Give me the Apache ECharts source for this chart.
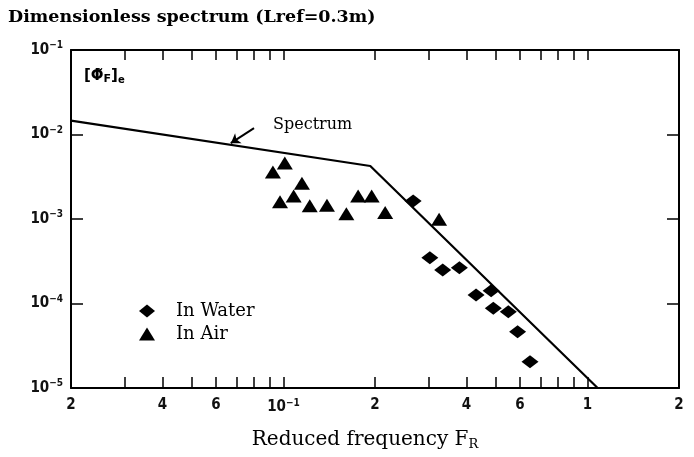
<!DOCTYPE html>
<html><head><meta charset="utf-8">
<script src="https://cdn.jsdelivr.net/npm/echarts@6/dist/echarts.min.js"></script>
<style>html,body{margin:0;padding:0;background:#fff}#c{width:694px;height:457px}</style>
</head><body><div id="c"></div>
<script>
// Tick positions / labels
const xTickValues = [0.02,0.03,0.04,0.05,0.06,0.07,0.08,0.09,0.1,0.2,0.3,0.4,0.5,0.6,0.7,0.8,0.9,1,2];
const xLabelValues = [0.02,0.04,0.06,0.1,0.2,0.4,0.6,1,2];
const yLabelValues = [1e-5,1e-4,1e-3,1e-2,1e-1];

// Spectrum (broken line)
const spectrumF   = [0.02, 0.193, 1.08];
const spectrumPhi = [0.0146, 0.00424, 1e-5];

// In Water (diamonds)
const waterF   = [0.267, 0.303, 0.334, 0.379, 0.430, 0.482, 0.490, 0.549, 0.589, 0.647];
const waterPhi = [0.00163, 3.48e-4, 2.49e-4, 2.65e-4, 1.26e-4, 1.42e-4, 8.77e-5, 8.0e-5, 4.64e-5, 2.05e-5];

// In Air (triangles)
const airF   = [0.0923, 0.101, 0.115, 0.108, 0.0974, 0.122, 0.139, 0.161, 0.176, 0.195, 0.216, 0.325];
const airPhi = [0.00360, 0.00460, 0.00264, 0.00187, 0.00160, 0.00143, 0.00145, 0.00115, 0.00187, 0.00187, 0.00119, 0.00099];

// Arrow annotation (data coords)
const arrowFrom = [0.080, 0.0119];
const arrowTo   = [0.0671, 0.0079];

const zip = (a, b) => a.map((v, i) => [v, b[i]]);

function xfmt(v) {
  const e = Math.floor(Math.log10(v) + 1e-9);
  const m = Math.round(v / Math.pow(10, e));
  if (m === 1) return e === 0 ? '1' : '10{s|\u2212' + (-e) + '}';
  return String(m);
}
function yfmt(v) {
  const e = Math.round(Math.log10(v));
  return '10{s|\u2212' + (-e) + '}';
}

const tickFont = {
  fontFamily: 'DejaVu Sans Condensed, DejaVu Sans, sans-serif',
  fontWeight: 'bold', fontSize: 15, color: '#111',
  rich: { s: { fontFamily: 'DejaVu Sans Condensed, DejaVu Sans, sans-serif', fontWeight: 'bold', fontSize: 10, color: '#111', verticalAlign: 'top', padding: [0, 0, 9, 0] } }
};
const axisLine = { show: true, lineStyle: { color: '#000', width: 2 } };
const tickStyle = { lineStyle: { color: '#000', width: 1.5 } };

const chart = echarts.init(document.getElementById('c'), null, { renderer: 'canvas' });
chart.setOption({
  backgroundColor: '#fff',
  animation: false,
  title: {
    text: 'Dimensionless spectrum (Lref=0.3m)', left: 8, top: 8, padding: 0,
    textStyle: { fontFamily: 'DejaVu Serif', fontWeight: 'bold', fontSize: 17.5, color: '#000' }
  },
  grid: { left: 71, right: 15, top: 50, bottom: 69, containLabel: false, outerBoundsMode: 'none' },
  legend: {
    orient: 'vertical', left: 139, top: 302, padding: 0, itemWidth: 16, itemHeight: 13, itemGap: 5,
    textStyle: { fontFamily: 'DejaVu Serif', fontSize: 18, color: '#000', padding: [0, 0, 0, 16] },
    data: [{ name: 'In Water', icon: 'diamond' }, { name: 'In Air', icon: 'triangle' }]
  },
  xAxis: [{
    type: 'log', logBase: 10, min: 0.02, max: 2, position: 'bottom',
    axisLine: axisLine,
    axisTick: Object.assign({ show: true, inside: true, length: 11, customValues: xTickValues }, tickStyle),
    axisLabel: Object.assign({ show: true, margin: 10, formatter: xfmt, customValues: xLabelValues }, tickFont),
    splitLine: { show: false },
    name: 'Reduced frequency F{sub|R}', nameLocation: 'middle', nameGap: 41,
    nameTextStyle: { fontFamily: 'DejaVu Serif', fontSize: 20, color: '#000', padding: [0, 20, 0, 0],
      rich: { sub: { fontFamily: 'DejaVu Serif', fontSize: 13, color: '#000', verticalAlign: 'bottom', padding: [9, 0, 0, 0] } } }
  }, {
    type: 'log', logBase: 10, min: 0.02, max: 2, position: 'top',
    axisLine: axisLine,
    axisTick: Object.assign({ show: true, inside: true, length: 10, customValues: xTickValues }, tickStyle),
    axisLabel: { show: false },
    splitLine: { show: false }
  }],
  yAxis: [{
    type: 'log', logBase: 10, min: 1e-5, max: 1e-1, position: 'left',
    axisLine: axisLine,
    axisTick: Object.assign({ show: true, inside: true, length: 12 }, tickStyle),
    axisLabel: Object.assign({ show: true, margin: 8, formatter: yfmt }, tickFont),
    splitLine: { show: false }
  }, {
    type: 'log', logBase: 10, min: 1e-5, max: 1e-1, position: 'right',
    axisLine: axisLine,
    axisTick: Object.assign({ show: true, inside: true, length: 12 }, tickStyle),
    axisLabel: { show: false },
    splitLine: { show: false }
  }],
  graphic: [
    { type: 'text', left: 273, top: 117, style: { text: 'Spectrum', font: '16px "DejaVu Serif"', fill: '#000' } },
    { type: 'text', left: 84, top: 69, style: {
      text: '[\u03A6\u0303{f|F}]{e|e}', fill: '#000',
      font: 'bold 15px "DejaVu Sans"',
      rich: { f: { font: 'bold 11px "DejaVu Sans"', fill: '#000', padding: [6, 0, 0, 0] },
              e: { font: 'bold 10px "DejaVu Sans"', fill: '#000', padding: [8, 0, 0, 0] } }
    } }
  ],
  series: [{
    name: 'Spectrum', type: 'line', data: zip(spectrumF, spectrumPhi),
    showSymbol: false, symbol: 'none', lineStyle: { color: '#000', width: 2.2 },
    silent: true,
    markLine: {
      silent: true, symbol: ['none', 'arrow'], symbolSize: 9,
      lineStyle: { color: '#000', width: 2, type: 'solid' },
      label: { show: false },
      data: [[{ coord: arrowFrom }, { coord: arrowTo }]]
    }
  }, {
    name: 'In Water', type: 'scatter', data: zip(waterF, waterPhi),
    symbol: 'diamond', symbolSize: [17, 13], itemStyle: { color: '#000', opacity: 1 }
  }, {
    name: 'In Air', type: 'scatter', data: zip(airF, airPhi),
    symbol: 'triangle', symbolSize: [16, 13], itemStyle: { color: '#000', opacity: 1 }
  }]
});
</script></body></html>
